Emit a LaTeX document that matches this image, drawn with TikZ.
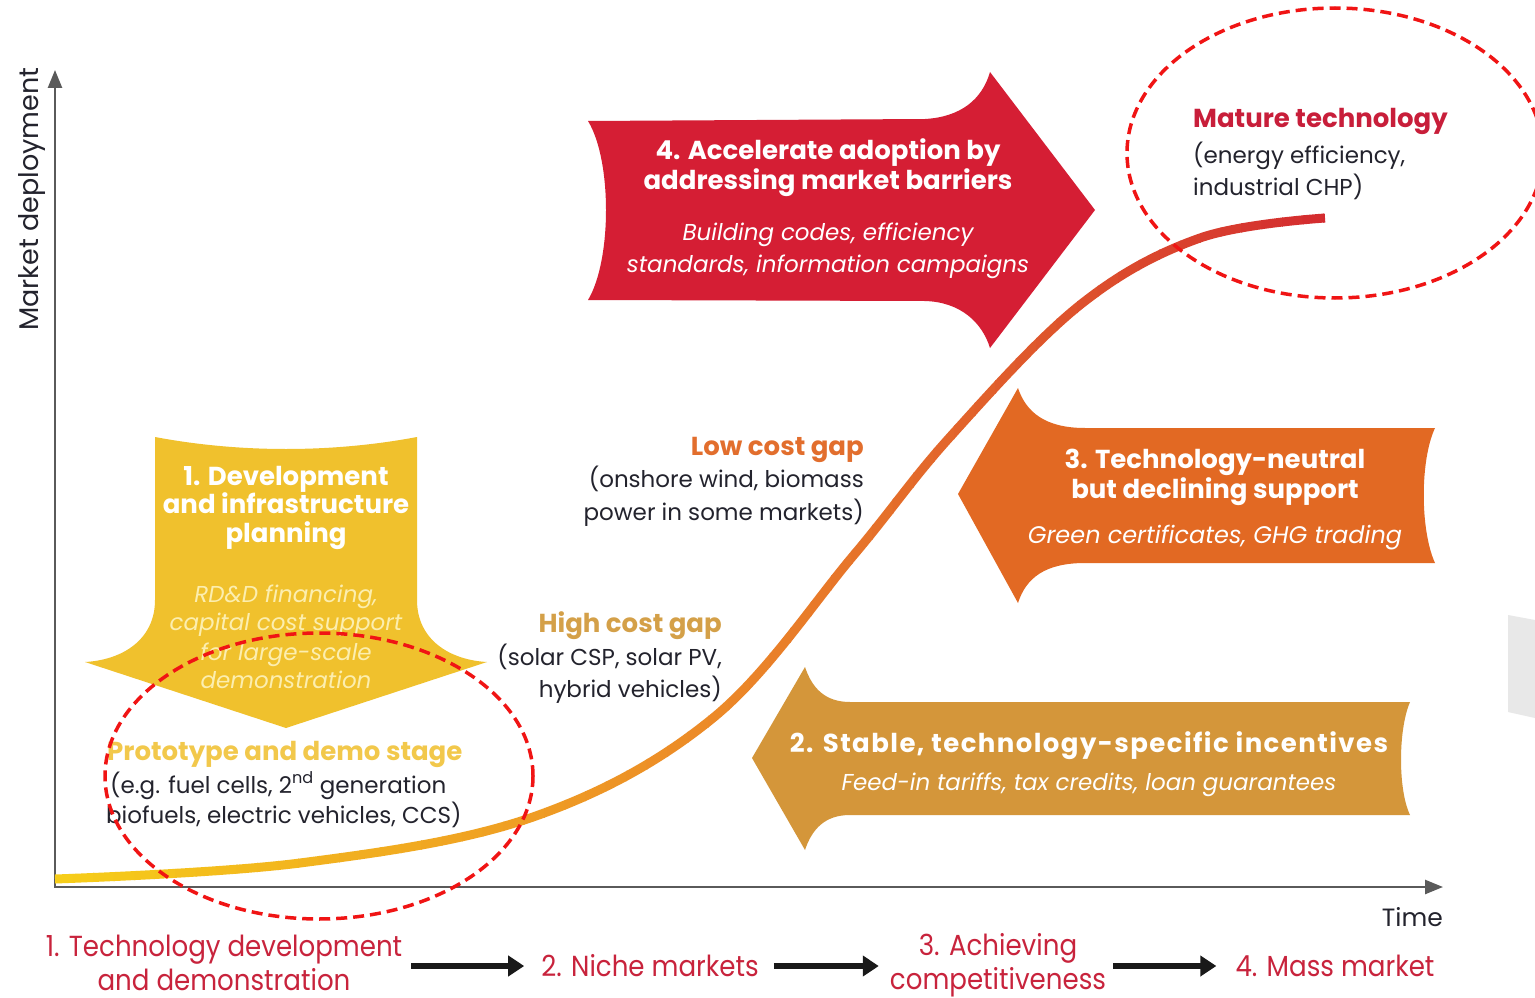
\documentclass[tikz,border=0pt]{standalone}
\usepackage{fontspec}
\setmainfont{Poppins}
\newfontfamily\condfont{Poppins}[FakeStretch=0.9]
\usetikzlibrary{arrows.meta}

\definecolor{cArrRed}{RGB}{213,30,52}
\definecolor{cArrYel}{RGB}{240,193,45}
\definecolor{cArrOra}{RGB}{226,105,35}
\definecolor{cArrGold}{RGB}{212,150,58}
\definecolor{cTxt}{RGB}{35,35,45}
\definecolor{cMature}{RGB}{200,30,58}
\definecolor{cProto}{RGB}{242,200,75}
\definecolor{cLow}{RGB}{226,110,45}
\definecolor{cHigh}{RGB}{212,160,72}
\definecolor{cStage}{RGB}{200,35,60}
\definecolor{cDash}{RGB}{240,20,20}
\definecolor{cPale}{RGB}{252,238,175}
\definecolor{cAxis}{RGB}{90,90,90}
\definecolor{cCurY}{RGB}{246,205,25}
\definecolor{cCurO}{RGB}{236,138,40}
\definecolor{cCurR}{RGB}{210,38,48}

\begin{document}
\begin{tikzpicture}[x=1pt,y=-1pt,
  body/.style={inner sep=0pt, text=cTxt, font=\fontsize{23}{30}\selectfont},
  hd/.style={inner sep=0pt, font=\fontsize{26}{30}\selectfont\bfseries},
  hdw/.style={hd, text=white},
  itw/.style={inner sep=0pt, text=white, font=\fontsize{23}{30}\selectfont\itshape},
  stage/.style={inner sep=0pt, text=cStage, align=center, font=\fontsize{29}{34}\condfont},
  axisline/.style={line width=2.5pt, draw=cAxis, {Triangle[length=18pt,width=14pt]}-{Triangle[length=18pt,width=14pt]}},
  flow/.style={line width=6pt, draw=black!90, -{Triangle[length=16pt,width=20pt]}},
  dashell/.style={draw=cDash, line width=3.5pt, dash pattern=on 11pt off 6pt}
]
\clip (0,0) rectangle (1535,998);
\fill[white] (0,0) rectangle (1535,998);

% faint shape at the right edge
\fill[black!9] (1508,615) -- (1535,620) -- (1535,718) -- (1508,712) -- cycle;

% axes
\coordinate (ytop) at (55,70);
\coordinate (orig) at (55,887);
\coordinate (xend) at (1443,887);
\draw[axisline] (ytop) -- (orig) -- (xend);
\node[inner sep=0pt, text=cTxt, font=\fontsize{27}{30}\selectfont, rotate=90, anchor=base] (ylab) at (38,199) {Market deployment};
\node[inner sep=0pt, text=cTxt, font=\fontsize{25}{30}\selectfont, anchor=base east] (xlab) at (1443,926) {Time};

% policy arrows
\fill[cArrRed] (588,121) -- (925,119) .. controls (960,117) and (982,100) .. (990,72)
  -- (1095,210) -- (990,348) .. controls (982,322) and (960,302) .. (925,301)
  -- (588,300) .. controls (612,260) and (612,160) .. (588,121) -- cycle;
\fill[cArrYel] (155,437) .. controls (240,453) and (332,453) .. (417,437)
  -- (417,600) .. controls (417,640) and (450,660) .. (487,662)
  -- (286,728) -- (85,662) .. controls (122,660) and (155,640) .. (155,600) -- cycle;
\fill[cArrOra] (958,494) -- (1018,388) .. controls (1026,412) and (1045,428) .. (1085,428)
  -- (1435,428) .. controls (1420,460) and (1420,530) .. (1435,563)
  -- (1085,563) .. controls (1045,563) and (1026,578) .. (1018,603) -- cycle;
\fill[cArrGold] (752,758) -- (805,667) .. controls (812,688) and (825,702) .. (850,702)
  -- (1410,702) .. controls (1398,730) and (1398,790) .. (1410,815)
  -- (850,815) .. controls (825,815) and (812,829) .. (805,850) -- cycle;

% adoption curve, coloured strip by strip
\foreach \i in {0,...,63}{
  \pgfmathsetmacro\xa{52+\i*20.5}
  \pgfmathsetmacro\xb{\xa+21.5}
  \pgfmathtruncatemacro\pa{min(100,\i*200/63)}
  \pgfmathtruncatemacro\pb{max(0,\i*200/63-100)}
  \colorlet{segc}{cCurO!\pa!cCurY}
  \colorlet{segc}{cCurR!\pb!segc}
  \begin{scope}
    \clip (\xa,0) rectangle (\xb,998);
    \draw[line width=9pt, segc] plot[smooth, tension=0.6] coordinates
      {(55,879) (300,863) (533,817) (713,718) (853,556) (950,437) (1080,305) (1200,238) (1325,218)};
  \end{scope}
}

% texts on the arrows
\node[hdw, anchor=base] (a4t1) at (828,159) {4. Accelerate adoption by};
\node[hdw, anchor=base] (a4t2) at (828,189) {addressing market barriers};
\node[itw, anchor=base] (a4s1) at (828,240) {Building codes, efficiency};
\node[itw, anchor=base] (a4s2) at (828,272) {standards, information campaigns};

\node[hdw, anchor=base] (a1t1) at (286,485) {1. Development};
\node[hdw, anchor=base] (a1t2) at (286,513) {and infrastructure};
\node[hdw, anchor=base] (a1t3) at (286,542) {planning};
\node[itw, text=cPale, anchor=base] (a1s1) at (286,602) {RD\&D financing,};
\node[itw, text=cPale, anchor=base] (a1s2) at (286,630) {capital cost support};
\node[itw, text=cPale, anchor=base] (a1s3) at (286,660) {for large-scale};
\node[itw, text=cPale, anchor=base] (a1s4) at (286,688) {demonstration};

\node[hdw, anchor=base] (a3t1) at (1215,468) {3. Technology-neutral};
\node[hdw, anchor=base] (a3t2) at (1215,498) {but declining support};
\node[itw, font=\fontsize{24}{30}\selectfont\itshape, anchor=base] (a3s1) at (1215,543) {Green certificates, GHG trading};

\node[hdw, font=\fontsize{26}{30}\selectfont\bfseries\addfontfeature{LetterSpace=5.5}, anchor=base] (a2t1) at (1089,752) {2. Stable, technology-specific incentives};
\node[itw, anchor=base] (a2s1) at (1089,790) {Feed-in tariffs, tax credits, loan guarantees};

% stage descriptions along the curve
\node[hd, text=cMature, anchor=base west] (matT) at (1193,128) {Mature technology};
\node[body, anchor=base west] (mat1) at (1193,163) {(energy efficiency,};
\node[body, anchor=base west] (mat2) at (1193,195) {industrial CHP)};

\node[hd, text=cLow, anchor=base east] (lowT) at (864,455) {Low cost gap};
\node[body, anchor=base east] (low1) at (864,487) {(onshore wind, biomass};
\node[body, anchor=base east] (low2) at (864,520) {power in some markets)};

\node[hd, text=cHigh, anchor=base east] (highT) at (722,632) {High cost gap};
\node[body, anchor=base east] (high1) at (722,665) {(solar CSP, solar PV,};
\node[body, anchor=base east] (high2) at (722,697) {hybrid vehicles)};

\node[hd, text=cProto, anchor=base west] (protoT) at (107,760) {Prototype and demo stage};
\node[body, anchor=base west] (proto1) at (110,793) {(e.g. fuel cells, 2\textsuperscript{nd} generation};
\node[body, anchor=base west] (proto2) at (106,823) {biofuels, electric vehicles, CCS)};

% market stages along the time axis
\node[stage] (st1) at (224,963) {1. Technology development\\and demonstration};
\node[stage] (st2) at (650,966) {2. Niche markets};
\node[stage] (st3) at (998,965) {3. Achieving\\competitiveness};
\node[stage] (st4) at (1335,966) {4. Mass market};
\draw[flow, shorten <=9pt, shorten >=17pt] (st1.east |- st2) -- (st2.west);
\draw[flow, shorten <=15pt, shorten >=11pt] (st2.east) -- (st3.west |- st2);
\draw[flow, shorten <=7pt, shorten >=19pt] (st3.east |- st4) -- (st4.west);

% highlighted regions
\draw[dashell] (1335,153) ellipse [x radius=208, y radius=145];
\draw[dashell] (319,776) ellipse [x radius=214, y radius=143];
\end{tikzpicture}
\end{document}
